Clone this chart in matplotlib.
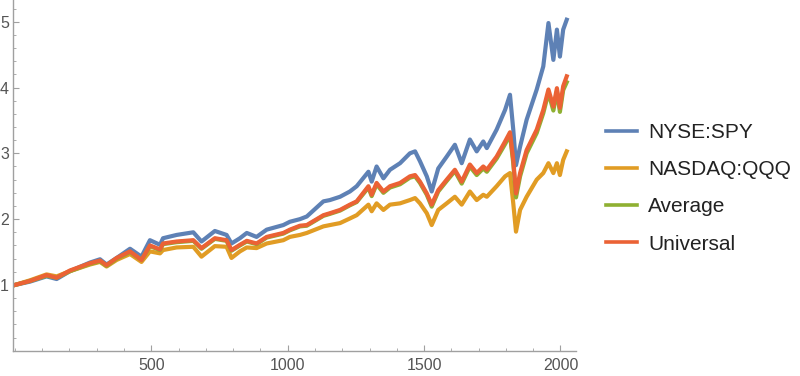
import matplotlib
matplotlib.use("Agg")
import matplotlib.pyplot as plt
from matplotlib.ticker import MultipleLocator

plt.rcParams['font.family'] = ['Liberation Sans', 'DejaVu Sans']

x = [0, 55, 116, 153, 202, 275, 312, 336, 373, 422, 464, 495, 532, 543, 593, 654, 684,
     733, 776, 794, 825, 850, 886, 923, 984, 1008, 1045, 1070, 1131, 1155, 1192,
     1228, 1253, 1296, 1308, 1326, 1351, 1375, 1412, 1448, 1467, 1485, 1510, 1528,
     1552, 1583, 1613, 1638, 1668, 1693, 1717, 1730, 1766, 1797, 1815, 1827, 1837,
     1852, 1876, 1913, 1937, 1956, 1974, 1987, 1998, 2010, 2023]

spy = [1.00, 1.05, 1.13, 1.09, 1.21, 1.34, 1.39, 1.31, 1.41, 1.55, 1.43, 1.68, 1.61, 1.71,
       1.76, 1.80, 1.66, 1.82, 1.76, 1.63, 1.71, 1.79, 1.73, 1.84, 1.91, 1.96, 2.00,
       2.04, 2.27, 2.29, 2.34, 2.42, 2.50, 2.72, 2.57, 2.80, 2.62, 2.75, 2.85, 3.00,
       3.03, 2.88, 2.65, 2.42, 2.77, 2.95, 3.13, 2.85, 3.21, 3.03, 3.18, 3.08, 3.36,
       3.66, 3.89, 3.36, 2.82, 3.10, 3.51, 3.97, 4.32, 4.98, 4.42, 4.88, 4.47, 4.88,
       5.03]

qqq = [1.00, 1.07, 1.16, 1.13, 1.21, 1.31, 1.35, 1.28, 1.38, 1.47, 1.35, 1.51, 1.48, 1.53,
       1.57, 1.58, 1.43, 1.59, 1.58, 1.41, 1.51, 1.57, 1.56, 1.63, 1.68, 1.73, 1.76,
       1.79, 1.89, 1.91, 1.94, 2.01, 2.06, 2.22, 2.12, 2.24, 2.14, 2.22, 2.24, 2.29,
       2.32, 2.24, 2.09, 1.91, 2.14, 2.24, 2.34, 2.22, 2.42, 2.29, 2.37, 2.34, 2.50,
       2.65, 2.70, 2.24, 1.81, 2.14, 2.34, 2.60, 2.70, 2.85, 2.70, 2.85, 2.67, 2.90,
       3.03]

average = [1.00, 1.06, 1.14, 1.11, 1.21, 1.32, 1.36, 1.29, 1.40, 1.50, 1.38, 1.59, 1.53, 1.62,
           1.65, 1.67, 1.55, 1.70, 1.67, 1.52, 1.60, 1.66, 1.62, 1.72, 1.78, 1.83, 1.89,
           1.90, 2.05, 2.08, 2.13, 2.21, 2.26, 2.48, 2.35, 2.53, 2.40, 2.48, 2.53, 2.63,
           2.65, 2.55, 2.37, 2.19, 2.42, 2.58, 2.73, 2.54, 2.80, 2.67, 2.77, 2.72, 2.92,
           3.14, 3.28, 2.85, 2.33, 2.65, 3.00, 3.31, 3.61, 3.92, 3.65, 3.94, 3.63, 3.96,
           4.08]

universal = [1.00, 1.06, 1.15, 1.11, 1.22, 1.33, 1.37, 1.30, 1.41, 1.51, 1.38, 1.60, 1.54, 1.63,
             1.66, 1.68, 1.56, 1.71, 1.68, 1.53, 1.61, 1.67, 1.63, 1.73, 1.79, 1.84, 1.90,
             1.91, 2.06, 2.09, 2.14, 2.22, 2.27, 2.50, 2.37, 2.55, 2.42, 2.50, 2.55, 2.65,
             2.67, 2.57, 2.39, 2.22, 2.44, 2.60, 2.75, 2.57, 2.83, 2.70, 2.80, 2.75, 2.95,
             3.18, 3.32, 2.90, 2.39, 2.70, 3.05, 3.36, 3.66, 3.97, 3.71, 3.99, 3.69, 4.02,
             4.17]

names = ["NYSE:SPY", "NASDAQ:QQQ", "Average", "Universal"]
colors = ["#5E81B5", "#E19C24", "#8FB032", "#EB6235"]
series = [spy, qqq, average, universal]

fig = plt.figure(figsize=(8, 3.76), dpi=100)
ax = fig.add_axes([13/800, 1 - 350.75/376, (576 - 13)/800, 350.75/376])

for s, c, n in zip(series, colors, names):
    ax.plot(x, s, color=c, lw=3.0, label=n)

ax.set_xlim(-7, 2057)
ax.set_ylim(0, 5.33)

for sp in ['top', 'right']:
    ax.spines[sp].set_visible(False)
for sp in ['left', 'bottom']:
    ax.spines[sp].set_color('#a0a0a0')
    ax.spines[sp].set_linewidth(1.0)

ax.xaxis.set_minor_locator(MultipleLocator(100))
ax.yaxis.set_minor_locator(MultipleLocator(0.2))
ax.set_xticks([500, 1000, 1500, 2000])
ax.set_yticks([1, 2, 3, 4, 5])

ax.tick_params(which='major', direction='in', length=4, width=0.8, color='#a0a0a0',
               labelcolor='#555555', labelsize=11.5)
ax.tick_params(which='minor', direction='in', length=2.5, width=0.6, color='#a0a0a0')
ax.tick_params(axis='x', which='major', pad=5)
ax.tick_params(axis='y', which='major', pad=3)

leg = fig.legend(loc='center left', bbox_to_anchor=(0.757, 0.499), frameon=False,
                 fontsize=15, handlelength=1.49, handletextpad=0.54, labelspacing=0.875,
                 borderpad=0, borderaxespad=0)
for h in leg.get_lines():
    h.set_linewidth(2.6)
for t in leg.get_texts():
    t.set_color('#222222')

fig.savefig("out.png", dpi=100, facecolor='white')
